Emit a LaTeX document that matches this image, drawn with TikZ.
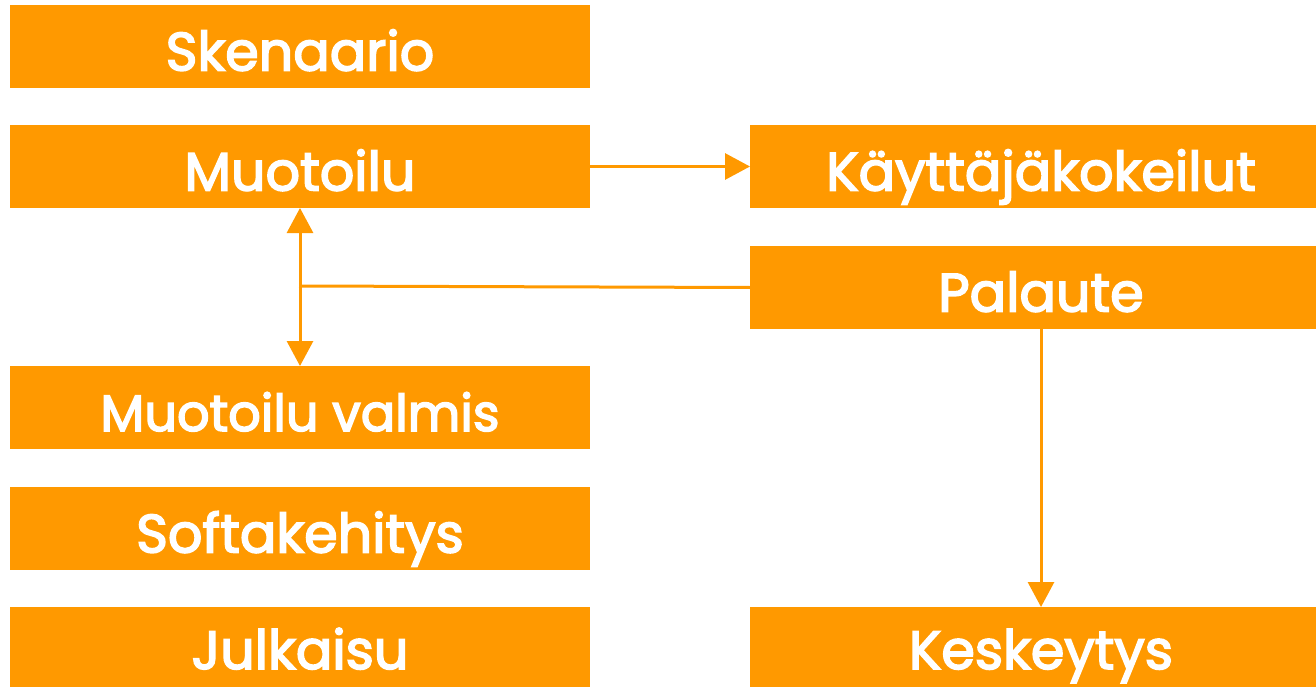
\documentclass[tikz,border=0pt]{standalone}
\usepackage{fontspec}
\setmainfont{Poppins}[UprightFeatures={FakeBold=3}]
\usetikzlibrary{arrows.meta}
\definecolor{org}{HTML}{FF9900}
\begin{document}
\begin{tikzpicture}[x=1pt,y=-1pt,
  box/.style={fill=org, draw=none, text=white, inner sep=0pt, outer sep=0pt,
    font=\fontsize{54}{60}\selectfont, anchor=north west,
    text height=48pt, text depth=0pt},
  lbox/.style={box, minimum width=580pt, minimum height=83pt},
  rbox/.style={box, minimum width=582pt, minimum height=83pt},
  lastbox/.style={minimum height=80pt, text height=44pt},
  conn/.style={draw=org, line width=3pt, -{Triangle[length=25pt,width=26pt]}},
  plain/.style={draw=org, line width=3pt}]
\useasboundingbox (0,0) rectangle (1316,687);
\node[lbox] (sk) at (10,5) {Skenaario};
\node[lbox] (mu) at (10,125) {Muotoilu};
\node[lbox, font=\fontsize{51}{60}\selectfont, text height=47pt] (mv) at (10,366) {Muotoilu valmis};
\node[lbox] (so) at (10,487) {Softakehitys};
\node[lbox, lastbox] (ju) at (10,607) {Julkaisu};
\node[rbox] (ka) at (750,125) {Käyttäjäkokeilut};
\node[rbox] (pa) at (750,246) {Palaute};
\node[rbox, lastbox] (ke) at (750,607) {Keskeytys};
\coordinate (j) at (299,286);
\draw[conn] (mu.east) -- (ka.west);
\draw[conn, {Triangle[length=25pt,width=26pt]}-{Triangle[length=25pt,width=26pt]}] (mu.south) -- (mv.north);
\draw[plain] (pa.west) -- (j);
\draw[conn] (pa.south) -- (ke.north);
\end{tikzpicture}
\end{document}
